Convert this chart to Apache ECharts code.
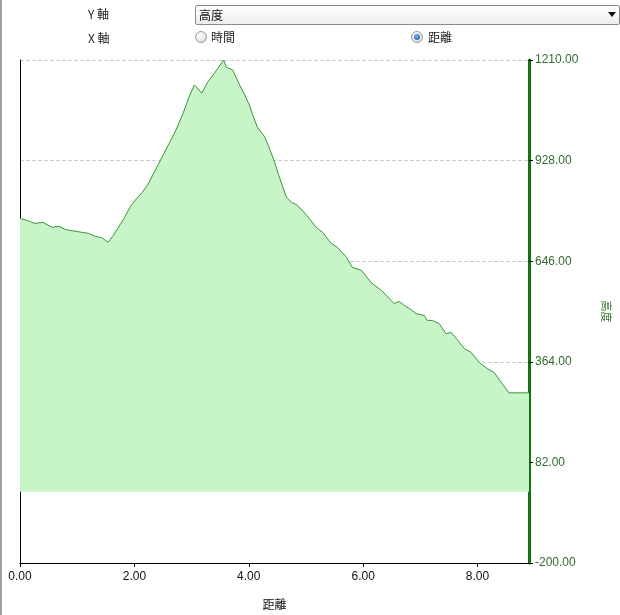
<!DOCTYPE html>
<html>
<head>
<meta charset="utf-8">
<script src="https://cdn.jsdelivr.net/npm/echarts@6/dist/echarts.min.js"></script>
<style>
html,body{margin:0;padding:0;background:#fff;width:620px;height:615px;overflow:hidden;font-family:"Liberation Sans",Arial,"Noto Sans CJK TC",sans-serif;}
#chart{position:absolute;left:0;top:0;width:620px;height:615px;}
.lbl{position:absolute;font-size:12px;color:#222;font-family:"Noto Sans CJK TC","Liberation Sans",sans-serif;line-height:14px;}
#sel{position:absolute;left:195px;top:5px;width:423px;height:18px;border:1px solid #8a8a8a;border-radius:2px;background:linear-gradient(#ffffff,#ededed);}
#sel .t{position:absolute;left:3px;top:2px;font-size:12px;line-height:14px;color:#111;font-family:"Noto Sans CJK TC",sans-serif;}
#sel .a{position:absolute;right:3px;top:6px;width:0;height:0;border-left:4px solid transparent;border-right:4px solid transparent;border-top:5px solid #111;}
.radio{position:absolute;width:10px;height:10px;border-radius:50%;border:1px solid #9a9a9a;background:radial-gradient(circle at 40% 35%,#ffffff,#d6d6d6);}
.radio.on::after{content:"";position:absolute;left:2px;top:2px;width:6px;height:6px;border-radius:50%;background:radial-gradient(circle at 40% 35%,#6fb6ff,#0b4f9e);}
#lb{position:absolute;left:0;top:0;width:2px;height:615px;background:#a0a0a0;}
</style>
</head>
<body>
<div id="chart"></div>
<div id="lb"></div>
<div class="lbl" style="left:88px;top:7px;">Y 軸</div>
<div id="sel"><span class="t">高度</span><span class="a"></span></div>
<div class="lbl" style="left:88px;top:31px;">X 軸</div>
<span class="radio" style="left:195px;top:31px;"></span>
<div class="lbl" style="left:211px;top:30px;">時間</div>
<span class="radio on" style="left:411px;top:31px;"></span>
<div class="lbl" style="left:428px;top:30px;">距離</div>
<script>
// distance (km)
var distances = [0, 0.13, 0.26, 0.4, 0.56, 0.68, 0.79, 0.93, 1.08, 1.2, 1.31, 1.43, 1.54, 1.62, 1.71, 1.83, 1.92, 2.04, 2.13, 2.23, 2.41, 2.53, 2.71, 2.84, 2.97, 3.05, 3.18, 3.28, 3.40, 3.56, 3.61, 3.72, 3.84, 3.93, 4.01, 4.07, 4.15, 4.28, 4.36, 4.45, 4.54, 4.66, 4.75, 4.85, 5.01, 5.18, 5.29, 5.44, 5.55, 5.71, 5.81, 5.97, 6.14, 6.32, 6.46, 6.54, 6.63, 6.72, 6.81, 6.93, 7.07, 7.12, 7.21, 7.33, 7.45, 7.54, 7.63, 7.77, 7.89, 8.03, 8.17, 8.29, 8.43, 8.55, 8.67, 8.9];
// altitude (m)
var altitudes = [766, 760, 752, 755, 741, 744, 735, 731, 727, 724, 716, 712, 699, 716, 738, 769, 797, 822, 838, 859, 915, 952, 1008, 1056, 1112, 1140, 1117, 1148, 1173, 1210, 1190, 1182, 1140, 1112, 1084, 1056, 1022, 994, 963, 924, 879, 825, 811, 803, 775, 741, 727, 696, 685, 657, 629, 620, 586, 564, 541, 527, 533, 522, 513, 499, 494, 480, 480, 471, 443, 446, 429, 401, 390, 362, 345, 334, 303, 277, 277, 277];
// right-axis tick labels
var yTickLabels = ["-200.00", "82.00", "364.00", "646.00", "928.00", "1210.00"];
var xName = "距離";
var yName = "高度";

var seriesData = distances.map(function (d, i) { return [d, altitudes[i]]; });

var chart = echarts.init(document.getElementById('chart'), null, {renderer: 'canvas'});
chart.setOption({
  animation: false,
  grid: {left: 20, right: 90, top: 60, bottom: 46},
  xAxis: {
    type: 'value', min: 0, max: 8.9, interval: 2,
    name: xName, nameLocation: 'middle', nameGap: 35,
    nameTextStyle: {color: '#111', fontSize: 12, fontFamily: 'Noto Sans CJK TC'},
    axisLine: {show: true, onZero: false, lineStyle: {color: '#000', width: 1}},
    axisTick: {show: true, length: 4, lineStyle: {color: '#000'}},
    axisLabel: {color: '#111', fontSize: 12, margin: 8, fontFamily: 'Liberation Sans, Arial',
      showMaxLabel: false,
      formatter: function (v) { return Math.abs(v - 8.9) < 1e-6 ? '' : v.toFixed(2); }},
    splitLine: {show: false}
  },
  yAxis: [
    {
      type: 'value', min: -200, max: 1210, position: 'left',
      axisLine: {show: true, onZero: false, lineStyle: {color: '#000', width: 1}},
      axisTick: {show: false}, axisLabel: {show: false}, splitLine: {show: false}
    },
    {
      type: 'value', min: 0, max: 1410, interval: 282, position: 'right',
      name: yName, nameLocation: 'middle', nameGap: 72, nameRotate: -90,
      nameTextStyle: {color: '#2a7a2a', fontSize: 11, fontFamily: 'Noto Sans CJK TC'},
      axisLine: {show: true, onZero: false, lineStyle: {color: '#0b780b', width: 3}},
      axisTick: {show: true, length: 4, lineStyle: {color: '#000'}},
      axisLabel: {color: '#2d6e2d', fontSize: 12, margin: 6, fontFamily: 'Liberation Sans, Arial',
        formatter: function (v) { return yTickLabels[Math.round(v / 282)]; }},
      splitLine: {show: true, lineStyle: {color: '#cfcfcf', type: 'dashed', width: 1}}
    }
  ],
  series: [{
    type: 'line', yAxisIndex: 0, data: seriesData,
    showSymbol: false, symbol: 'none',
    lineStyle: {color: '#339933', width: 1},
    areaStyle: {color: '#c7f5c7', opacity: 1}
  }]
});
</script>
</body>
</html>
